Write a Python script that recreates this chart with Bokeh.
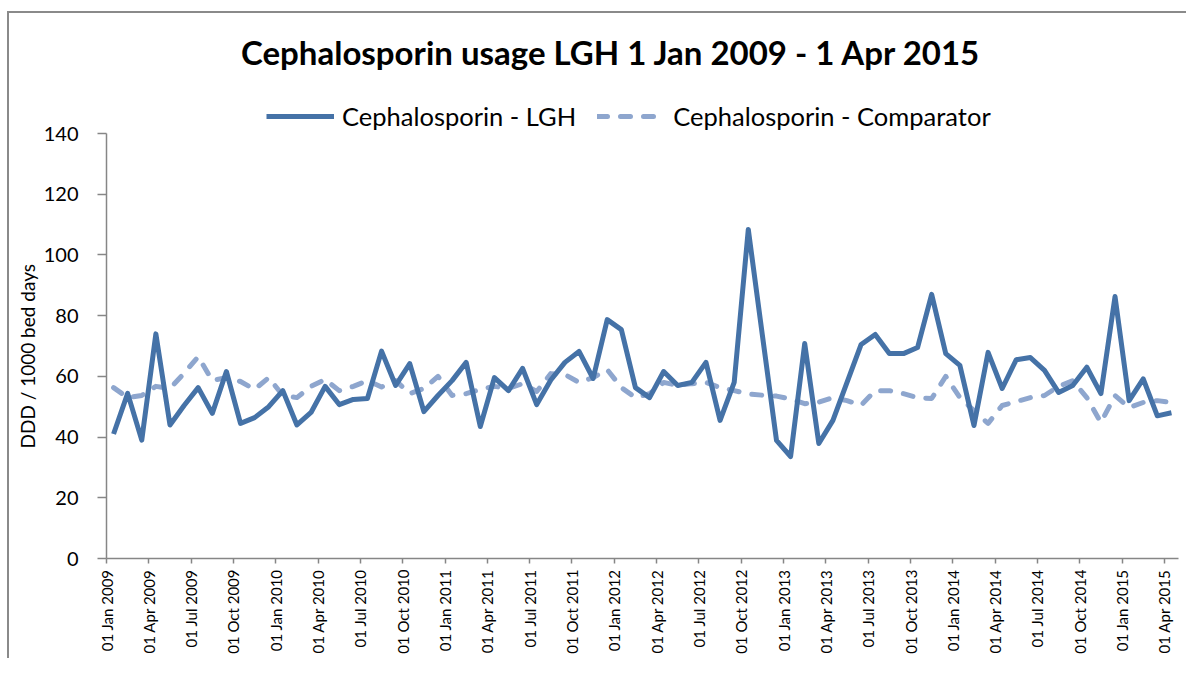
from bokeh.plotting import figure
from bokeh.models import FixedTicker, Legend, LegendItem, Label, Range1d, ColumnDataSource, Title
from bokeh.embed import file_html
from bokeh.resources import INLINE

months = ["Jan", "Feb", "Mar", "Apr", "May", "Jun", "Jul", "Aug", "Sep", "Oct", "Nov", "Dec"]
start_year = 2009
n_months = 76  # Jan 2009 .. Apr 2015

lgh = [41, 54.4, 39, 74, 44, 50.4, 56.3, 47.8, 61.6, 44.5, 46.4, 50,
       55.3, 44, 48.1, 56.7, 50.7, 52.4, 52.7, 68.3, 57, 64.2, 48.4, 53.7,
       58.6, 64.6, 43.5, 59.6, 55.3, 62.6, 50.7, 58.8, 64.6, 68.2, 59.3, 78.7,
       75.4, 56.3, 53, 61.6, 57, 58, 64.6, 45.5, 58, 108.4, 73.5, 38.9,
       33.6, 70.8, 37.9, 45.5, 58, 70.5, 73.8, 67.5, 67.5, 69.5, 87, 67.5,
       63.6, 43.8, 67.9, 56, 65.5, 66.2, 62, 54.7, 57, 63, 54.3, 86.3,
       52, 59.2, 47, 48]

comparator = [56.3, 53, 53.7, 56.7, 56, 61, 66.5, 58.6, 59.6, 58.3, 55.7, 59.6,
              53.7, 53, 56.7, 59, 55.3, 56.7, 58.6, 56.5, 58.6, 54.3, 56, 60,
              53.7, 54.3, 55.7, 56.7, 56, 57.6, 55, 60.9, 60.6, 58, 59.6, 62.2,
              56.3, 53, 54.3, 58, 57, 57.6, 58, 56.3, 55.3, 54.2, 53.8, 53.5,
              52.5, 51, 51.5, 53, 52, 50.5, 55.3, 55.3, 54.3, 53, 52.7, 60,
              53, 48.7, 44.5, 50.4, 51.7, 53, 53.7, 56.7, 58.6, 53, 44.8, 53.7,
              49.7, 51.4, 52, 51.4]

title_text = "Cephalosporin usage LGH 1 Jan 2009 - 1 Apr 2015"
y_label = "DDD / 1000 bed days"
series_names = ["Cephalosporin - LGH", "Cephalosporin - Comparator"]
y_ticks = [0, 20, 40, 60, 80, 100, 120, 140]
y_axis_max = 140

x_mid = [i + 0.5 for i in range(n_months)]
tick_pos = list(range(0, n_months, 3))
tick_labels = {t: "01 %s %d" % (months[t % 12], start_year + t // 12) for t in tick_pos}

FONT = "Lato"
AXIS_GRAY = "#868686"
C_LGH = "#4572A7"
C_CMP = "#8EA6CE"

# value axis occupies 425 px for 0..140; the frame extends above it
# to hold the title and legend (axis drawn only over 0..140 via bounds)
AXIS_PX = 425
FRAME_H = 545
y_top = y_axis_max * FRAME_H / AXIS_PX

p = figure(frame_width=1072, frame_height=FRAME_H,
           x_range=Range1d(0, n_months), y_range=Range1d(0, y_top),
           output_backend="svg", toolbar_location=None,
           min_border_left=97, min_border_top=0, min_border_right=8, min_border_bottom=100,
           background_fill_color="white", border_fill_color="white")
p.styles = {"border-top": "2px solid #8a8a8a", "border-left": "2px solid #8a8a8a",
            "margin-top": "11px", "margin-left": "7px"}
p.outline_line_color = None
p.grid.visible = False

src = ColumnDataSource(dict(x=x_mid, lgh=lgh, cmp=comparator))
r2 = p.line("x", "cmp", source=src, line_color=C_CMP, line_width=5, line_dash="10 13",
            line_cap="round", line_join="round")
r1 = p.line("x", "lgh", source=src, line_color=C_LGH, line_width=5, line_join="round")

# axes
p.xaxis.ticker = FixedTicker(ticks=tick_pos)
p.xaxis.major_label_overrides = tick_labels
p.xaxis.major_label_orientation = 1.5708
p.xaxis.minor_tick_line_color = None
p.xaxis.major_tick_in = 0
p.xaxis.major_tick_out = 5
p.xaxis.major_label_standoff = 6
p.xaxis.major_label_text_font = FONT
p.xaxis.major_label_text_font_size = "15px"
p.xaxis.major_label_text_color = "black"

p.yaxis.ticker = FixedTicker(ticks=y_ticks)
p.yaxis.bounds = (0, y_axis_max)
p.yaxis.minor_tick_line_color = None
p.yaxis.major_tick_in = 0
p.yaxis.major_tick_out = 9
p.yaxis.major_label_standoff = 19
p.yaxis.major_label_text_font = FONT
p.yaxis.major_label_text_font_size = "20px"
p.yaxis.major_label_text_color = "black"

for ax in (p.xaxis, p.yaxis):
    ax.axis_line_color = AXIS_GRAY
    ax.axis_line_width = 1.5
    ax.major_tick_line_color = AXIS_GRAY
    ax.major_tick_line_width = 1.5

# y-axis title, centred on the 0..140 value span
ytitle = Title(text=y_label, align="left", offset=110, standoff=4,
               text_font=FONT, text_font_style="normal", text_font_size="19px",
               text_color="black")
p.add_layout(ytitle, "left")

# chart title as a label inside the extended frame
title = Label(x=35.8, y=166.7, text=title_text, text_align="center", text_baseline="middle",
              text_font=FONT, text_font_style="bold", text_font_size="33px", text_color="black")
p.add_layout(title)

legend = Legend(items=[LegendItem(label=series_names[0], renderers=[r1]),
                       LegendItem(label=series_names[1], renderers=[r2])],
                orientation="horizontal", location=(160, 427),
                glyph_width=68, glyph_height=24, label_standoff=8, spacing=21,
                padding=0, margin=0, border_line_alpha=0, background_fill_alpha=0,
                label_text_font=FONT, label_text_font_size="25.5px", label_text_color="black")
p.add_layout(legend, "center")

open("out.html", "w").write(file_html(p, INLINE))
